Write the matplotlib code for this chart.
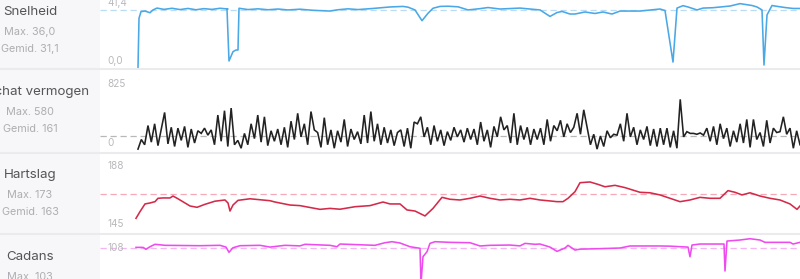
import numpy as np
import matplotlib.pyplot as plt
from matplotlib.lines import Line2D

plt.rcParams['font.family'] = ['Inter', 'DejaVu Sans']

# ---- data (distance in km) ----
speed_km = [0.0, 0.1, 0.3, 0.7, 1.2, 1.5, 1.9, 2.6, 3.4, 4.2, 5.0, 5.8, 6.6, 7.4, 8.2,
            9.0, 8.9, 9.1, 9.5, 9.8, 10.0, 10.1, 11.0, 12.0, 13.0, 14.0, 15.0, 16.2,
            17.5, 19.2, 20.0, 21.0, 22.0, 23.5, 25.2, 26.5, 27.0, 27.7, 28.4, 29.0,
            29.5, 30.2, 31.0, 32.0, 33.0, 34.2, 35.0, 36.2, 38.2, 40.2, 41.2, 41.9,
            42.4, 43.2, 43.7, 44.7, 45.7, 46.5, 47.4, 48.2, 48.7, 50.2, 52.2, 52.7,
            53.5, 53.9, 54.5, 55.0, 55.9, 56.5, 57.5, 59.2, 60.2, 61.4, 61.9, 62.4,
            62.6, 62.9, 63.4, 63.7, 64.7, 65.5, 66.2]
speed = [0.0, 26.8, 30.4, 30.7, 29.8, 31.3, 32.3, 31.6, 32.2, 31.5, 32.1, 31.4, 32.0,
         31.6, 32.2, 31.8, 31.8, 3.8, 8.8, 9.7, 9.7, 32.2, 31.5, 31.9, 31.4, 31.8, 31.3,
         31.7, 31.1, 30.7, 31.4, 31.9, 31.5, 32.1, 32.9, 33.2, 32.8, 31.3, 25.5, 29.5,
         32.2, 33.2, 33.3, 33.0, 31.3, 32.0, 32.6, 31.8, 32.3, 31.3, 27.8, 29.9, 30.5,
         29.1, 29.1, 30.2, 29.4, 30.2, 29.1, 30.7, 30.7, 30.7, 31.8, 31.0, 3.2, 32.3,
         33.6, 32.9, 31.3, 32.3, 32.5, 33.4, 34.7, 33.7, 32.9, 31.3, 1.6, 28.6, 33.7,
         33.4, 32.6, 32.1, 32.1]

power = [10, 120, 60, 280, 90, 300, 50, 240, 430, 70, 260, 40, 250, 110, 270, 30, 240,
         80, 220, 190, 250, 170, 230, 60, 400, 100, 450, 40, 480, 60, 110, 20, 190, 60,
         300, 130, 400, 90,
         380, 50, 220, 100, 240, 60, 260, 30, 330, 120, 420, 150, 300, 60, 440, 230, 200,
         30, 370, 60, 230, 20, 220, 90, 350, 40, 240, 120, 210, 70, 400, 80, 440, 100,
         300, 60, 260, 80, 230, 50, 200,
         230, 40, 250, 20, 320, 300, 380, 150, 260, 60, 280, 100, 230, 50, 210, 110, 260,
         150, 230, 90, 250, 120, 240, 60, 320, 100, 230, 30, 270, 150, 380, 230, 280, 80,
         420, 60, 280, 120, 260, 60, 240,
         120, 250, 60, 350, 100, 280, 220, 340, 150, 300, 200, 260, 420, 180, 460, 260,
         60, 180, 10, 160, 40, 220, 140, 180, 170, 300, 100, 420, 150, 260, 60, 230, 120,
         270, 50, 240, 40, 250, 60,
         250, 30, 220, 20, 580, 150, 210, 190, 190, 180, 195, 170, 250, 100, 270, 60, 300,
         130, 250, 40, 220, 90, 300, 80, 350, 30, 350, 120, 200, 40, 340, 80, 250, 200,
         210, 380, 180, 250, 20, 220, 60]

hr_km = [-0.2, 0.2, 0.7, 1.2, 1.7, 2.0, 2.5, 3.2, 3.5, 4.0, 5.2, 5.9, 6.7, 7.7, 8.7,
         9.0, 9.2, 9.5, 10.0, 11.2, 13.2, 13.7, 15.2, 16.2, 18.2, 19.2, 20.2, 21.7,
         23.2, 24.5, 25.2, 26.2, 26.9, 27.7, 28.7, 29.5, 30.4, 31.2, 32.2, 33.2, 34.2,
         35.2, 36.2, 37.2, 38.2, 39.2, 40.2, 41.2, 41.9, 42.5, 43.0, 43.7, 44.2, 45.2,
         46.0, 46.7, 47.7, 48.7, 50.2, 51.2, 52.2, 53.2, 54.2, 55.2, 56.2, 57.2, 58.2,
         59.0, 59.7, 60.4, 61.2, 62.2, 63.2, 64.2, 65.2, 65.9, 66.2]
hr = [142.7, 148.3, 154.7, 155.5, 156.6, 159.4, 159.7, 159.7, 161.3, 159.0, 153.0,
      151.9, 154.4, 157.0, 158.0, 155.5, 148.8, 153.8, 157.7, 159.0, 157.4, 156.3,
      153.8, 153.3, 150.2, 151.0, 150.3, 152.4, 153.3, 156.3, 154.7, 154.7, 149.7,
      148.8, 144.7, 151.0, 160.2, 158.6, 158.0, 159.4, 161.3, 159.4, 158.0, 158.6,
      158.0, 159.4, 158.0, 157.2, 156.6, 156.6, 159.4, 164.9, 172.4, 173.0, 171.0,
      169.0, 170.2, 168.3, 164.4, 164.0, 162.2, 159.4, 156.6, 158.0, 160.2, 159.4,
      159.4, 165.8, 164.4, 162.2, 164.0, 161.3, 159.4, 158.0, 154.7, 150.2, 153.0]

cad_km = [-0.2, 0.5, 0.8, 1.2, 1.7, 2.7, 6.2, 8.2, 8.8, 9.1, 9.5, 10.2, 12.2, 13.2,
          14.7, 16.2, 16.7, 19.2, 19.9, 20.2, 23.7, 24.7, 25.4, 26.2, 27.2, 28.2, 28.3,
          28.5, 28.9, 29.2, 29.7, 31.2, 33.2, 34.2, 35.2, 37.2, 38.2, 38.7, 39.7, 40.2,
          41.2, 41.9, 42.7, 43.0, 43.7, 44.2, 46.2, 48.2, 49.2, 51.2, 52.2, 53.2, 55.0,
          55.2, 55.4, 56.2, 58.6, 58.7, 58.9, 60.2, 61.2, 62.2, 62.7, 65.2, 65.5, 66.2]
cadence = [93.7, 93.7, 91.6, 94.4, 97.0, 95.9, 95.5, 95.9, 94.0, 88.4, 93.3, 95.5, 95.9,
           94.0, 95.9, 95.3, 97.0, 95.9, 94.4, 97.3, 95.9, 98.7, 99.8, 98.4, 94.4, 92.7,
           55.0, 83.7, 89.0, 98.0, 99.8, 99.1, 98.7, 95.2, 95.9, 96.2, 95.3, 98.0, 97.0,
           97.3, 94.0, 89.4, 93.0, 95.9, 90.8, 91.8, 92.3, 93.0, 95.2, 95.2, 95.2, 95.0,
           94.0, 83.6, 96.2, 97.3, 97.3, 68.3, 100.5, 101.6, 103.0, 101.6, 99.1, 99.1,
           97.3, 99.1]

titles = ['Snelheid', 'Geschat vermogen', 'Hartslag', 'Cadans']
max_labels = ['Max. 36,0', 'Max. 580', 'Max. 173', 'Max. 103']
avg_labels = ['Gemid. 31,1', 'Gemid. 161', 'Gemid. 163', '']
avg_values = [31.1, 161, 163, 93]
tick_labels = [('41,4', '0,0'), ('825', '0'), ('188', '145'), ('108', '')]
ylims = [(0, 36.66), (-23, 916), (130.5, 196.3), (59.7, 107)]
colors = ['#4aa8e6', '#222222', '#d42a4a', '#ee4bef']
avg_colors = ['#b9dcf4', '#b8b8b8', '#f6a9b6', '#f6b3f6']

# row extents in pixels (top, bottom) and text positions
W, H = 800, 279
rows = [(0, 68), (70, 152), (154, 233), (235, 279)]
title_y = [12, 92, 175, 257]
tick_y = [(3, 61), (84, 143), (166, 224), (248, None)]

fig = plt.figure(figsize=(W / 100, H / 100), dpi=100)
fig.patch.set_facecolor('white')

side = fig.add_axes([0, 0, 100 / W, 1])
side.set_facecolor('#f7f7f9')
side.set_xticks([])
side.set_yticks([])
for s in side.spines.values():
    s.set_visible(False)

def fy(py):
    return 1 - py / H

series = [(speed_km, speed), (np.linspace(0, 66.2, len(power)), power),
          (hr_km, hr), (cad_km, cadence)]

for i, (top, bot) in enumerate(rows):
    ax = fig.add_axes([100 / W, fy(bot), 700 / W, (bot - top) / H])
    ax.set_facecolor('white')
    for s in ax.spines.values():
        s.set_visible(False)
    ax.set_xticks([])
    ax.set_yticks([])
    ax.set_xlim(-3.8, 66.2)
    ax.set_ylim(*ylims[i])
    ax.axhline(avg_values[i], color=avg_colors[i], lw=0.9, ls=(0, (5, 3)), zorder=1)
    x, y = series[i]
    ax.plot(x, y, color=colors[i], lw=1.15, zorder=2,
            solid_joinstyle='miter' if i == 1 else 'round')

    # y-range labels
    t_top, t_bot = tick_labels[i]
    fig.text(107 / W, fy(tick_y[i][0]), t_top, color='#b9b9bd', fontsize=7.2, va='center')
    if t_bot:
        fig.text(107 / W, fy(tick_y[i][1]), t_bot, color='#b9b9bd', fontsize=7.2, va='center')

    # left-hand labels
    fig.text(30 / W, fy(title_y[i]), titles[i], color='#555558', fontsize=9.6,
             ha='center', va='center')
    fig.text(30 / W, fy(title_y[i] + 20), max_labels[i], color='#aeaeb2', fontsize=7.8,
             ha='center', va='center')
    if avg_labels[i]:
        fig.text(30 / W, fy(title_y[i] + 37), avg_labels[i], color='#aeaeb2', fontsize=7.8,
                 ha='center', va='center')

# row separators
for py in [69, 153, 234]:
    fig.add_artist(Line2D([0, 1], [fy(py), fy(py)], color='#ebebee', lw=1.5,
                          transform=fig.transFigure))

fig.savefig('out.png', dpi=100)
